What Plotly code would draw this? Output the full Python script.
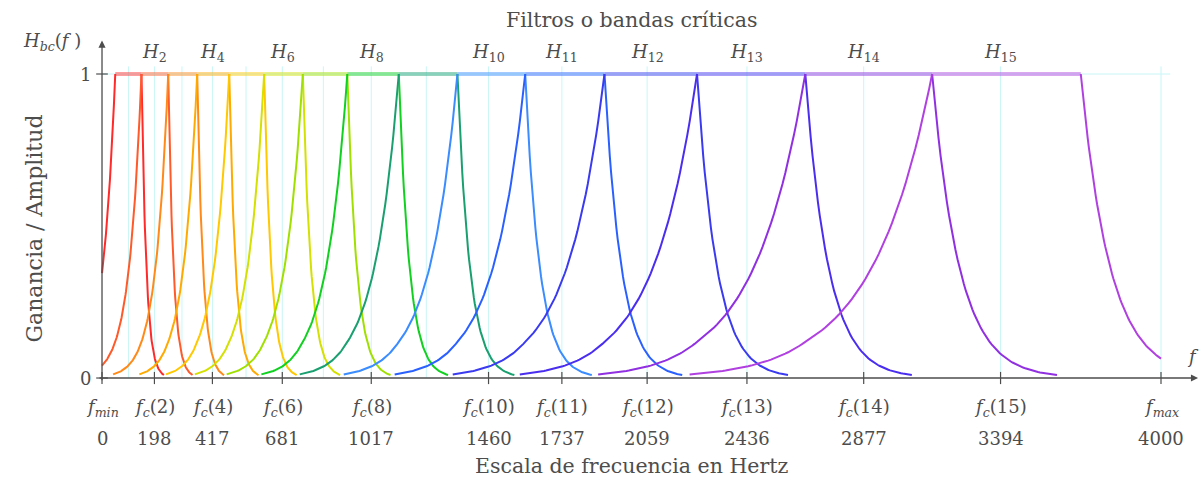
import numpy as np
import plotly.graph_objects as go

# centre frequencies f_c(0)..f_c(16) in Hz  (f_c(0)=f_min, f_c(16)=f_max)
centers = [0, 100, 198, 302, 417, 544, 681, 836, 1017, 1225, 1460, 1737, 2059, 2436, 2877, 3394, 4000]
# labelled ticks (index into centers)
tick_idx = [0, 2, 4, 6, 8, 10, 11, 12, 13, 14, 15, 16]
tick_values = ["0", "198", "417", "681", "1017", "1460", "1737", "2059", "2436", "2877", "3394", "4000"]
# filters whose name is written above the plot
h_labels = [2, 4, 6, 8, 10, 11, 12, 13, 14, 15]
# filter colours H1..H15
colors = ["#ff2a2a", "#ff5a2a", "#ff8a1a", "#ffaa00", "#ffc800", "#d4e000", "#a0e000",
          "#10d020", "#1aa070", "#3a8cff", "#2a60ff", "#3a3af0", "#4a2ef0", "#9030e0", "#b040e0"]
# skirt shape (exponential in band units)
left_decay, left_span = 2.13, 2.08
right_decay, right_span = 5.5, 0.84

FMIN, FMAX = centers[0], centers[-1]
fc_ext = [-200, -100] + centers + [2 * centers[-1] - centers[-2]]
edges = np.array([(fc_ext[i] + fc_ext[i + 1]) / 2 for i in range(len(fc_ext) - 1)])
idx = np.arange(-2, -2 + len(edges))
u_min = np.interp(FMIN, edges, idx)
u_max = np.interp(FMAX, edges, idx)

INK = "#4d4d4d"
SERIF = "DejaVu Serif"
fig = go.Figure()

# plateaus (lighter)
for k in range(1, 16):
    f0 = np.interp(k - 1, idx, edges)
    f1 = np.interp(k, idx, edges)
    fig.add_trace(go.Scatter(x=[f0, f1], y=[1, 1], mode="lines", opacity=0.45,
                             line=dict(color=colors[k - 1], width=4), hoverinfo="skip", showlegend=False))
# skirts
for k in range(1, 16):
    uL = np.linspace(max(k - 1 - left_span, u_min), k - 1, 80)
    uR = np.linspace(k, min(k + right_span, u_max), 60)
    xL = np.interp(uL, idx, edges)
    yL = np.exp(-left_decay * (k - 1 - uL))
    xR = np.interp(uR, idx, edges)
    yR = np.exp(-right_decay * (uR - k))
    for xs, ys in ((xL, yL), (xR, yR)):
        fig.add_trace(go.Scatter(x=xs, y=ys, mode="lines",
                                 line=dict(color=colors[k - 1], width=2), hoverinfo="skip", showlegend=False))

shapes = []
grid_col = "#c9f6f6"
for v in centers[1:]:
    shapes.append(dict(type="line", xref="x", yref="y", x0=v, x1=v, y0=0, y1=1.025,
                       line=dict(color=grid_col, width=1), layer="below"))
shapes.append(dict(type="line", xref="x", yref="y", x0=0, x1=FMAX + 35, y0=1, y1=1,
                   line=dict(color=grid_col, width=1), layer="below"))
for i in tick_idx:
    v = centers[i]
    shapes.append(dict(type="line", xref="x", yref="y", x0=v, x1=v, y0=-0.02, y1=0.02,
                       line=dict(color=INK, width=1.2)))
for v in (0, 1):
    shapes.append(dict(type="line", xref="x", yref="y", x0=-22, x1=22, y0=v, y1=v,
                       line=dict(color=INK, width=1.2)))

ann = []
# axes with arrows
ann.append(dict(x=4140, y=0, ax=-15, ay=0, xref="x", yref="y", axref="x", ayref="y", text="",
                showarrow=True, arrowhead=2, arrowsize=1.1, arrowwidth=1.3, arrowcolor=INK))
ann.append(dict(x=0, y=1.11, ax=0, ay=-0.012, xref="x", yref="y", axref="x", ayref="y", text="",
                showarrow=True, arrowhead=2, arrowsize=1.1, arrowwidth=1.3, arrowcolor=INK))
fnt = dict(family=SERIF, size=18, color=INK)
big = dict(family=SERIF, size=20.5, color=INK)
for j, i in enumerate(tick_idx):
    if i == 0:
        name = "<i>f</i><sub><i>min</i></sub>"
    elif i == 16:
        name = "<i>f</i><sub><i>max</i></sub>"
    else:
        name = "<i>f</i><sub><i>c</i></sub>(%d)" % i
    ann.append(dict(x=centers[i], y=-0.1, xref="x", yref="y", text=name, showarrow=False, font=fnt))
    ann.append(dict(x=centers[i], y=-0.2, xref="x", yref="y", text=tick_values[j], showarrow=False, font=fnt))
for k in h_labels:
    ann.append(dict(x=centers[k], y=1.07, xref="x", yref="y", text="<i>H</i><sub>%d</sub>" % k,
                    showarrow=False, font=fnt))
ann.append(dict(x=-62, y=0, xref="x", yref="y", text="0", showarrow=False, font=fnt))
ann.append(dict(x=-62, y=1, xref="x", yref="y", text="1", showarrow=False, font=fnt))
ann.append(dict(x=-190, y=1.105, xref="x", yref="y", text="<i>H</i><sub><i>bc</i></sub>(<i>f</i> )",
                showarrow=False, font=fnt))
ann.append(dict(x=4122, y=0.07, xref="x", yref="y", text="<i>f</i>", showarrow=False, font=fnt))
ann.append(dict(x=2000, y=1.178, xref="x", yref="y", text="Filtros o bandas críticas",
                showarrow=False, font=big))
ann.append(dict(x=2000, y=-0.29, xref="x", yref="y", text="Escala de frecuencia en Hertz",
                showarrow=False, font=big))
ann.append(dict(x=-255, y=0.49, xref="x", yref="y", text="Ganancia / Amplitud", textangle=-90,
                showarrow=False, font=dict(family=SERIF, size=22, color=INK)))

fig.update_layout(
    width=1200, height=482, margin=dict(l=0, r=0, t=0, b=0),
    paper_bgcolor="white", plot_bgcolor="white",
    xaxis=dict(range=[-385.3, 4147.3], visible=False, showgrid=False, zeroline=False),
    yaxis=dict(range=[-0.342, 1.2434], visible=False, showgrid=False, zeroline=False),
    shapes=shapes, annotations=ann,
)
fig.write_html("out.html")
